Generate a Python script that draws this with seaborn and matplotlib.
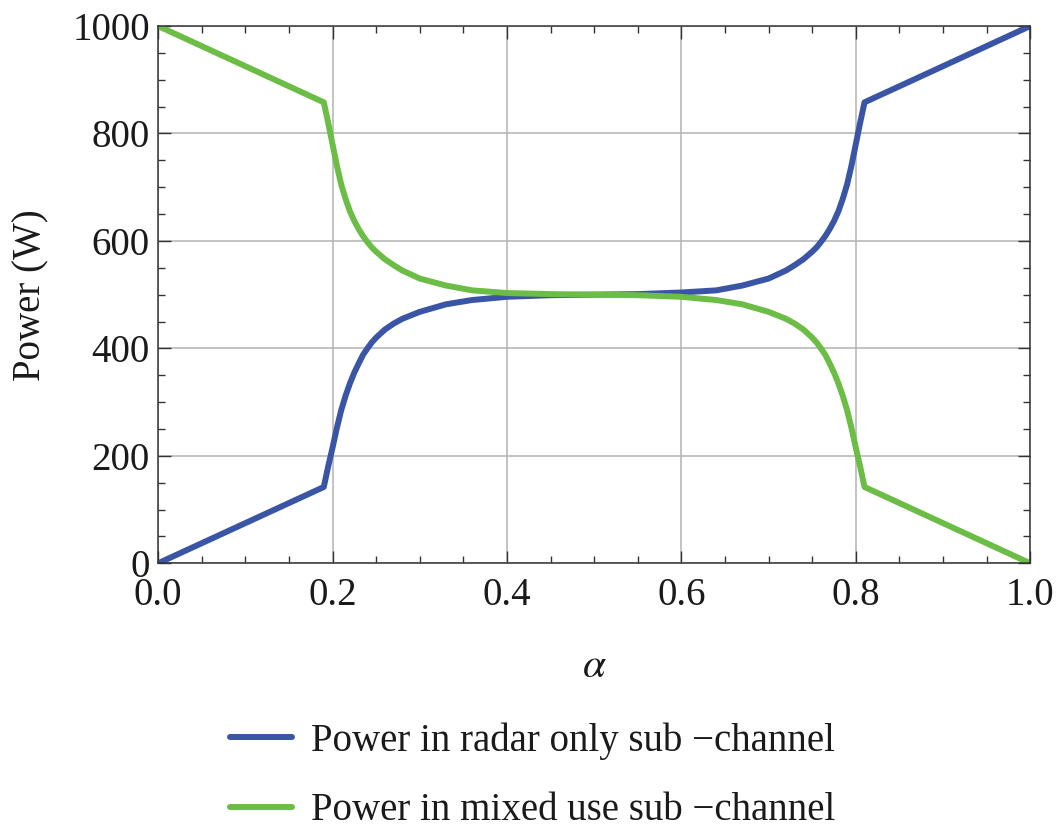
import pandas as pd
import seaborn as sns
import matplotlib.pyplot as plt
from matplotlib.lines import Line2D
from matplotlib.ticker import MultipleLocator, FormatStrFormatter

# values
alpha = [0.0, 0.19, 0.195, 0.20, 0.205, 0.21, 0.215, 0.22, 0.225, 0.23, 0.235,
         0.24, 0.245, 0.25, 0.26, 0.27, 0.28, 0.30, 0.33, 0.36, 0.40, 0.45, 0.50,
         0.55, 0.60, 0.64, 0.67, 0.70, 0.72, 0.73, 0.74, 0.75, 0.755, 0.76,
         0.765, 0.77, 0.775, 0.78, 0.785, 0.79, 0.795, 0.80, 0.805, 0.81, 1.0]
radar_power = [0, 142, 180, 215, 252, 285, 312, 335, 355, 372, 388,
               400, 411, 420, 435, 446, 455, 468, 482, 490, 496, 499, 500,
               501, 504, 508, 517, 530, 545, 555, 566, 580, 588, 598,
               609, 622, 637, 655, 678, 705, 740, 780, 820, 858, 1000]
mixed_power = [1000, 858, 820, 780, 740, 705, 678, 655, 637, 622, 609,
               598, 588, 580, 566, 555, 545, 530, 517, 508, 503, 501, 500,
               499, 496, 490, 482, 468, 455, 446, 435, 420, 411, 400,
               388, 372, 355, 335, 312, 285, 252, 215, 180, 142, 0]
series_labels = ["Power in radar only sub \u2212channel",
                 "Power in mixed use sub \u2212channel"]
colors = ["#3a55a6", "#6bbd45"]

df = pd.DataFrame({
    "alpha": alpha * 2,
    "power": radar_power + mixed_power,
    "series": [series_labels[0]] * len(alpha) + [series_labels[1]] * len(alpha),
})

sns.set_style("ticks")
plt.rcParams["font.family"] = ["Liberation Serif", "DejaVu Serif"]
plt.rcParams["mathtext.fontset"] = "stix"

fig = plt.figure(figsize=(10.61, 8.34), dpi=100)
ax = fig.add_axes([0.149, 0.3246, 0.822, 0.6442])

sns.lineplot(data=df, x="alpha", y="power", hue="series", palette=colors,
             linewidth=4.3, sort=False, ax=ax, legend=False)

ax.set_xlim(0, 1)
ax.set_ylim(0, 1000)
ax.xaxis.set_major_locator(MultipleLocator(0.2))
ax.xaxis.set_minor_locator(MultipleLocator(0.05))
ax.xaxis.set_major_formatter(FormatStrFormatter("%.1f"))
ax.yaxis.set_major_locator(MultipleLocator(200))
ax.yaxis.set_minor_locator(MultipleLocator(50))
ax.grid(True, which="major", color="#b3b3b3", linewidth=1.1)

for s in ax.spines.values():
    s.set_color("#333333")
    s.set_linewidth(1.1)
ax.tick_params(which="both", direction="in", top=True, right=True,
               color="#333333", labelsize=28, labelcolor="#1a1a1a")
ax.tick_params(which="major", length=9, width=1.0)
ax.tick_params(which="minor", length=5, width=1.0)
ax.tick_params(axis="x", pad=10)
ax.tick_params(axis="y", pad=6)

ax.set_xlabel(r"$\alpha$", fontsize=30, labelpad=24, color="#1a1a1a")
ax.set_ylabel("Power (W)", fontsize=28, labelpad=16, color="#1a1a1a")

handles = [Line2D([], [], color=c, linewidth=4.3) for c in colors]
fig.legend(handles, series_labels, loc="upper left",
           bbox_to_anchor=(0.198, 0.157), frameon=False, fontsize=28,
           handlelength=1.6, handletextpad=0.5, labelspacing=0.83, borderpad=0,
           labelcolor="#1a1a1a")

fig.savefig("out.png", dpi=100)
